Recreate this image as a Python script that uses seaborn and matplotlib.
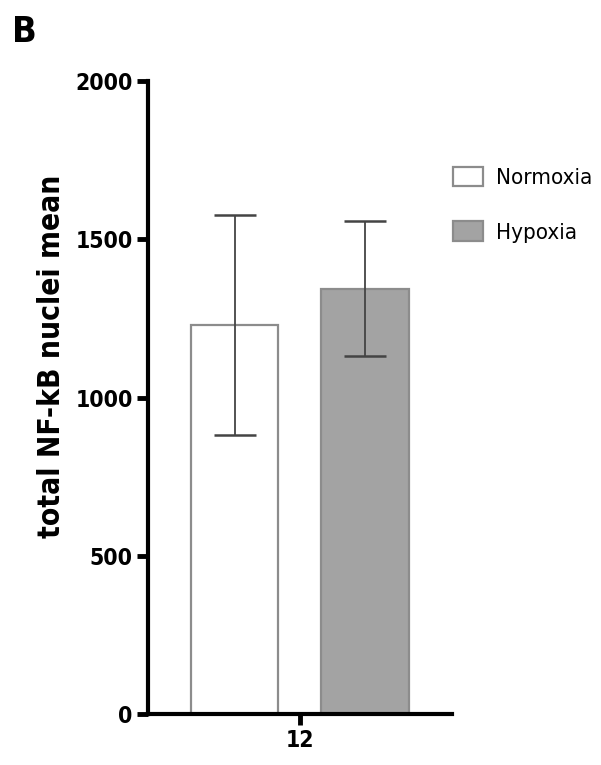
import numpy as np
import pandas as pd
import matplotlib
matplotlib.use("Agg")
import matplotlib.pyplot as plt
import seaborn as sns

# values
conditions = ["Normoxia", "Hypoxia"]
timepoint = ["12", "12"]
means = [1230, 1345]
sds = [347, 212]

df = pd.DataFrame({"time": timepoint, "condition": conditions, "mean": means})

sns.set_style("white")
plt.rcParams["font.family"] = ["DejaVu Sans"]
plt.rcParams["font.stretch"] = "condensed"
plt.rcParams["text.color"] = "black"
plt.rcParams["xtick.color"] = "black"
plt.rcParams["ytick.color"] = "black"
plt.rcParams["axes.labelcolor"] = "black"

fig = plt.figure(figsize=(6.01, 7.65), dpi=100)
ax = fig.add_axes([0.246, 0.0667, 0.506, 0.827])

sns.barplot(data=df, x="time", y="mean", hue="condition", ax=ax,
            palette={"Normoxia": "white", "Hypoxia": "#a3a3a3"},
            width=0.8, gap=0.33, errorbar=None,
            edgecolor="#8c8c8c", linewidth=1.6, legend=True)

# error bars at the bar centres
for patch, m, s in zip(ax.patches, means, sds):
    xc = patch.get_x() + patch.get_width() / 2
    ax.errorbar(xc, m, yerr=s, fmt="none", ecolor="#444444",
                elinewidth=1.3, capsize=15, capthick=1.8, zorder=5)

ax.set_ylim(0, 2000)
ax.set_xlim(-0.466, 0.466)
ax.set_yticks([0, 500, 1000, 1500, 2000])
ax.set_xlabel("")
ax.set_ylabel("total NF-kB nuclei mean", fontsize=21.5, fontweight="bold")
ax.yaxis.set_label_coords(-0.27, 0.566)

for side in ["top", "right"]:
    ax.spines[side].set_visible(False)
for side in ["left", "bottom"]:
    ax.spines[side].set_linewidth(3)
    ax.spines[side].set_color("black")

ax.tick_params(axis="both", which="major", length=8, width=3.5, color="black",
               labelsize=16.5, left=True, bottom=True, direction="out", pad=3)
for lbl in ax.get_xticklabels() + ax.get_yticklabels():
    lbl.set_fontweight("bold")

handles, labels = ax.get_legend_handles_labels()
ax.legend(handles, labels, loc="upper left", bbox_to_anchor=(0.72, 0.808),
          bbox_transform=fig.transFigure, frameon=False, fontsize=16,
          handlelength=1.35, handleheight=0.95, handletextpad=0.6,
          labelspacing=1.5)

fig.text(0.02, 0.945, "B", fontsize=26, fontweight="bold")

fig.savefig("out.png", dpi=100)
